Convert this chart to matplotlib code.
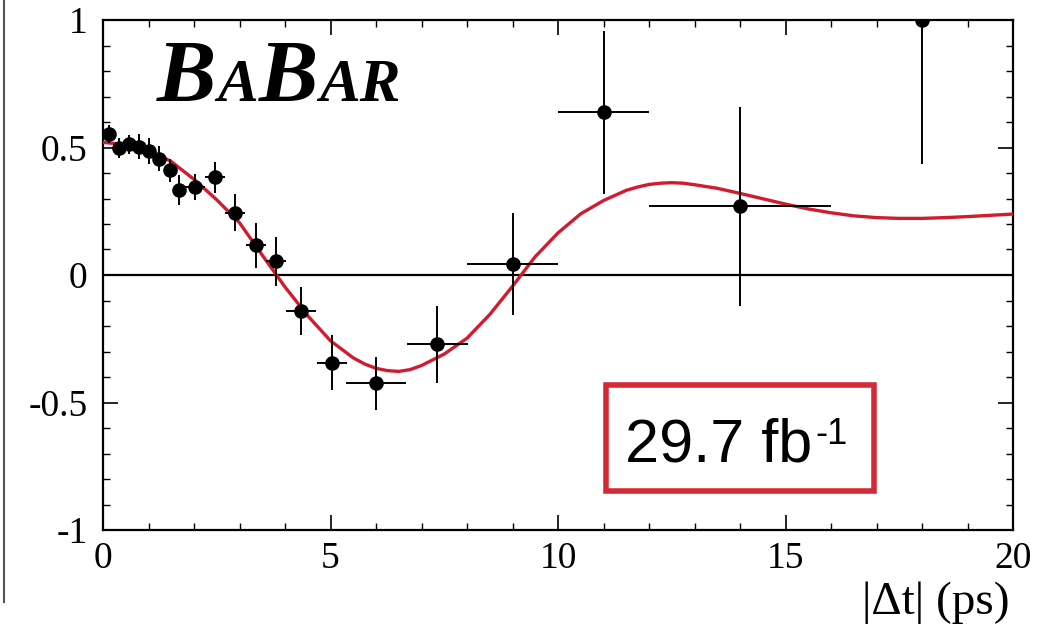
import numpy as np
import matplotlib
matplotlib.use("Agg")
import matplotlib.pyplot as plt
from matplotlib.patches import Rectangle
from matplotlib.lines import Line2D
from matplotlib.ticker import MultipleLocator, FuncFormatter

plt.rcParams['font.family'] = ['Liberation Serif', 'DejaVu Serif']
plt.rcParams['axes.unicode_minus'] = False

W, H = 1048, 629

dt = [0.13, 0.36, 0.58, 0.80, 1.02, 1.24, 1.47, 1.68, 2.03, 2.47, 2.91,
      3.36, 3.80, 4.35, 5.03, 6.0, 7.35, 9.0, 11.0, 14.0, 18.0]
dt_err = [0.11, 0.11, 0.11, 0.11, 0.11, 0.11, 0.11, 0.11, 0.22, 0.22, 0.22,
          0.22, 0.22, 0.33, 0.33, 0.66, 0.67, 1.0, 1.0, 2.0, 2.0]
asym = [0.552, 0.497, 0.512, 0.503, 0.487, 0.456, 0.41, 0.333, 0.346, 0.383, 0.244,
        0.116, 0.054, -0.141, -0.344, -0.425, -0.272, 0.043, 0.638, 0.27, 1.0]
asym_err = [0.035, 0.04, 0.036, 0.05, 0.052, 0.05, 0.045, 0.06, 0.05, 0.06, 0.072,
            0.088, 0.096, 0.093, 0.108, 0.105, 0.15, 0.2, 0.32, 0.39, 0.565]

# fit curve (every 0.5 ps, a bit denser at the turning points)
fit_t = [0.0, 0.5, 1.0, 1.5, 2.0, 2.5, 3.0, 3.5, 4.0, 4.5, 5.0, 5.5, 5.75, 6.0,
         6.25, 6.5, 6.75, 7.0, 7.5, 8.0, 8.5, 9.0, 9.5, 10.0, 10.5, 11.0, 11.5,
         11.75, 12.0, 12.25, 12.5, 12.75, 13.0, 13.5, 14.0, 14.5, 15.0, 15.5, 16.0,
         16.5, 17.0, 17.5, 18.0, 18.5, 19.0, 19.5, 20.0]
fit_a = [0.52, 0.512, 0.49, 0.445, 0.375, 0.295, 0.205, 0.078, -0.047, -0.16,
         -0.258, -0.325, -0.349, -0.366, -0.375, -0.378, -0.371, -0.355, -0.31,
         -0.248, -0.155, -0.044, 0.072, 0.165, 0.24, 0.292, 0.332, 0.345, 0.355,
         0.360, 0.362, 0.360, 0.354, 0.34, 0.32, 0.299, 0.278, 0.259, 0.244, 0.232,
         0.225, 0.222, 0.222, 0.225, 0.229, 0.234, 0.239]

logo_letters = ["B", "A", "B", "AR"]
logo_sizes = [64, 44, 64, 44]
lumi_text = "29.7 fb"
lumi_sup = "-1"

fig = plt.figure(figsize=(W / 100, H / 100), dpi=100)
ax = fig.add_axes([103 / W, 1 - 530 / H, 910 / W, 510 / H])

ax.set_xlim(0, 20)
ax.set_ylim(-1, 1)
ax.axhline(0, color='black', lw=1.6, zorder=2)
ax.plot(fit_t, fit_a, color='#d01c2c', lw=2.4, zorder=3)
ax.errorbar(dt, asym, xerr=dt_err, yerr=asym_err, fmt='o', color='black',
            ms=9.5, elinewidth=1.4, capsize=0, zorder=4)

#ROOT style ticks, inward on all four sides
ax.xaxis.set_major_locator(MultipleLocator(5))
ax.xaxis.set_minor_locator(MultipleLocator(1))
ax.yaxis.set_major_locator(MultipleLocator(0.5))
ax.yaxis.set_minor_locator(MultipleLocator(0.1))
fmt = FuncFormatter(lambda v, p: "%g" % v)
ax.xaxis.set_major_formatter(fmt)
ax.yaxis.set_major_formatter(fmt)
ax.tick_params(which='both', direction='in', top=True, right=True, labelsize=27)
ax.tick_params(which='major', length=11, width=1.2)
ax.tick_params(which='minor', length=5, width=1.0)
ax.tick_params(axis='x', pad=8)
ax.tick_params(axis='y', pad=11)
for s in ax.spines.values():
    s.set_linewidth(1.6)

fig.text(1010 / W, 1 - 603 / H, "|\u0394t| (ps)", fontsize=34, ha='right', va='center')

# luminosity box
ax.add_patch(Rectangle(((606 - 103) / 910, (530 - 491) / 510),
                       (874 - 606) / 910, (491 - 385) / 510, transform=ax.transAxes,
                       fill=False, edgecolor='#d42a35', lw=4, zorder=5))

# left border of the cropped page
fig.add_artist(Line2D([4 / W, 4 / W], [1 - 602 / H, 1], color='#555555', lw=1.5))

fig.canvas.draw()
renderer = fig.canvas.get_renderer()

t = fig.text(625 / W, 1 - 461 / H, lumi_text, fontsize=44, family='Liberation Sans',
             va='baseline', zorder=6)
bb = t.get_window_extent(renderer)
fig.text((bb.x1 + 3) / W, 1 - 444 / H, lumi_sup, fontsize=26, family='Liberation Sans',
         va='baseline', zorder=6)

# BaBar logo, letter by letter
x_px = 157
for letters, size in zip(logo_letters, logo_sizes):
    t = fig.text(x_px / W, 1 - 101 / H, letters, fontsize=size, fontweight='bold',
                 fontstyle='italic', family='Liberation Serif', va='baseline')
    bb = t.get_window_extent(renderer)
    x_px = bb.x1 + 1

fig.savefig('out.png', dpi=100)
